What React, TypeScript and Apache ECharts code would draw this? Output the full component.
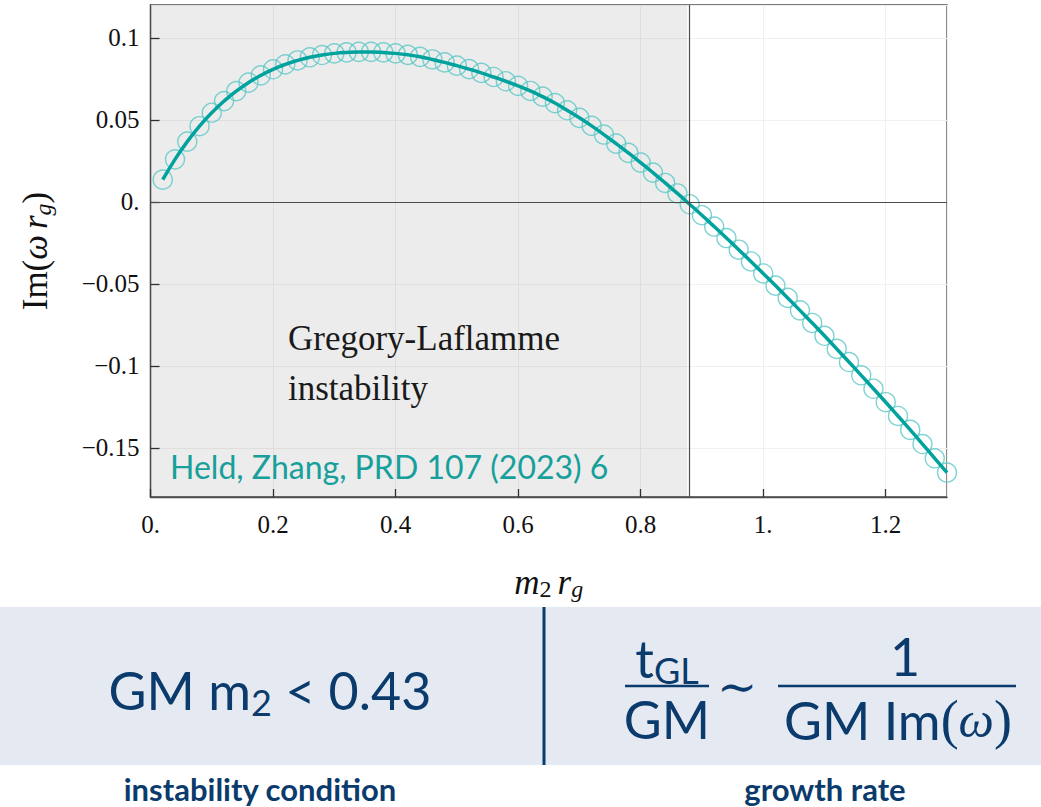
import React, { useEffect, useRef } from "react";
import * as echarts from "echarts";

// m2 * r_g sample points (x) and Im(omega r_g) values (y)
const massValues = [
  0.02, 0.04, 0.06, 0.08, 0.1, 0.12, 0.14, 0.16, 0.18, 0.2,
  0.22, 0.24, 0.26, 0.28, 0.3, 0.32, 0.34, 0.36, 0.38, 0.4,
  0.42, 0.44, 0.46, 0.48, 0.5, 0.52, 0.54, 0.56, 0.58, 0.6,
  0.62, 0.64, 0.66, 0.68, 0.7, 0.72, 0.74, 0.76, 0.78, 0.8,
  0.82, 0.84, 0.86, 0.88, 0.9, 0.92, 0.94, 0.96, 0.98, 1.0,
  1.02, 1.04, 1.06, 1.08, 1.1, 1.12, 1.14, 1.16, 1.18, 1.2,
  1.22, 1.24, 1.26, 1.28, 1.3,
];
const imValues = [
  0.0135, 0.0259, 0.0367, 0.0461, 0.0543, 0.0614, 0.0675, 0.0727, 0.0771, 0.0808,
  0.0838, 0.0862, 0.0881, 0.0895, 0.0905, 0.0911, 0.0914, 0.0914, 0.0911, 0.0905,
  0.0896, 0.0884, 0.0868, 0.085, 0.083, 0.0809, 0.0786, 0.0761, 0.0735, 0.0707,
  0.0676, 0.0641, 0.0602, 0.0558, 0.0512, 0.0463, 0.041, 0.0355, 0.0298, 0.0239,
  0.0178, 0.0115, 0.0051, -0.0015, -0.0082, -0.0151, -0.0221, -0.0292, -0.0364, -0.0437,
  -0.0511, -0.0586, -0.0662, -0.0739, -0.0817, -0.0897, -0.0977, -0.1058, -0.114, -0.1222,
  -0.1306, -0.1391, -0.1477, -0.1564, -0.1651,
];
const instabilityThreshold = 0.876;
const xRange = [0, 1.3];
const yRange = [-0.18, 0.12];
const xTickStep = 0.2;

const annotationLines = ["Gregory-Laflamme", "instability"];
const sourceLabel = "Held, Zhang, PRD 107 (2023) 6";
const conditionCaption = "instability condition";
const rateCaption = "growth rate";

const SERIF = "'Liberation Serif', 'DejaVu Serif', serif";
const SANS = "Lato, 'Open Sans', sans-serif";
const NAVY = "#0b3b6c";
const TEAL = "#00a29e";

const fmt = (v: number) => {
  const r = +v.toFixed(2);
  if (r === 0) return "0.";
  const a = Math.abs(r);
  const s = Number.isInteger(a) ? a + "." : String(a);
  return (r < 0 ? "\u2212" : "") + s;
};

const mathRich = {
  r: { fontFamily: SERIF, fontSize: 35, color: "#111", lineHeight: 38 },
  i: { fontFamily: SERIF, fontStyle: "italic", fontSize: 35, color: "#111", lineHeight: 38 },
  s: { fontFamily: SERIF, fontStyle: "italic", fontSize: 24, color: "#111", lineHeight: 20, verticalAlign: "bottom" },
  n: { fontFamily: SERIF, fontSize: 24, color: "#111", lineHeight: 20, verticalAlign: "bottom" },
  sp: { fontFamily: SERIF, fontSize: 35, color: "#111", lineHeight: 38, width: 6 },
};

export default function App() {
  const ref = useRef<HTMLDivElement>(null);

  useEffect(() => {
    const chart = echarts.init(ref.current!, null, { renderer: "svg" });
    const data = massValues.map((x, i) => [x, imValues[i]]);

    const big = { fontFamily: SANS, fontSize: 52, fill: NAVY, color: NAVY, lineHeight: 60 };
    const bigSub = { fontFamily: SANS, fontSize: 36, fill: NAVY, color: NAVY, lineHeight: 30, verticalAlign: "bottom" };

    chart.setOption({
      animation: false,
      backgroundColor: "#ffffff",
      grid: {
        left: 150.5,
        top: 5,
        right: 94,
        bottom: 310,
        show: true,
        borderColor: "#4d4d4d",
        borderWidth: 1.3,
        backgroundColor: "transparent",
      },
      xAxis: {
        type: "value",
        min: xRange[0],
        max: xRange[1],
        interval: xTickStep,
        axisLine: { show: true, onZero: false, lineStyle: { color: "#4d4d4d", width: 1.3 } },
        axisTick: { show: true, inside: true, length: 8, lineStyle: { color: "#333", width: 1.3 } },
        axisLabel: {
          formatter: fmt,
          fontFamily: SERIF,
          fontSize: 25,
          color: "#111",
          margin: 15,
          showMaxLabel: false,
        },
        splitLine: { show: true, lineStyle: { color: "#f0f0f0", width: 1 } },
        name: "{i|m}{n|2}{sp| }{i|r}{s|g}",
        nameLocation: "middle",
        nameGap: 66,
        nameTextStyle: { rich: mathRich },
      },
      yAxis: {
        type: "value",
        min: yRange[0],
        max: yRange[1],
        splitNumber: 6,
        axisLine: { show: true, onZero: false, lineStyle: { color: "#4d4d4d", width: 1.3 } },
        axisTick: { show: true, inside: true, length: 9, lineStyle: { color: "#333", width: 1.3 } },
        axisLabel: {
          formatter: fmt,
          fontFamily: SERIF,
          fontSize: 25,
          color: "#111",
          margin: 11,
          showMinLabel: false,
          showMaxLabel: false,
        },
        splitLine: { show: true, lineStyle: { color: "#f0f0f0", width: 1 } },
        name: "{r|Im(}{i|\u03c9}{sp| }{i|r}{s|g}{r|)}",
        nameLocation: "middle",
        nameGap: 96,
        nameRotate: 90,
        nameTextStyle: { rich: mathRich },
      },
      series: [
        {
          type: "line",
          data,
          symbol: "none",
          silent: true,
          lineStyle: { opacity: 0, width: 0 },
          z: 1,
          markArea: {
            silent: true,
            itemStyle: { color: "rgba(0,0,0,0.075)", borderWidth: 0 },
            data: [[{ xAxis: xRange[0] }, { xAxis: instabilityThreshold }]],
          },
          markLine: {
            silent: true,
            symbol: ["none", "none"],
            label: { show: false },
            lineStyle: { color: "#4d4d4d", width: 1.2, type: "solid" },
            data: [{ yAxis: 0 }, { xAxis: instabilityThreshold }],
          },
        },
        {
          type: "scatter",
          data,
          symbol: "circle",
          symbolSize: 19,
          itemStyle: { color: "rgba(0,0,0,0)", borderColor: "#5cc8c5", borderWidth: 1.4 },
          z: 3,
        },
        {
          type: "line",
          data,
          smooth: true,
          symbol: "none",
          lineStyle: { color: TEAL, width: 3.5 },
          z: 4,
        },
      ],
      graphic: [
        {
          type: "text",
          z: 10,
          style: {
            x: 288,
            y: 363,
            text: annotationLines.join("\n"),
            fontFamily: SERIF,
            fontSize: 35,
            lineHeight: 50,
            fill: "#1a1a1a",
            align: "left",
            verticalAlign: "middle",
          },
        },
        {
          type: "text",
          z: 10,
          style: {
            x: 170,
            y: 466,
            text: sourceLabel,
            fontFamily: SANS,
            fontSize: 32,
            fill: "#17a09b",
            align: "left",
            verticalAlign: "middle",
          },
        },
        {
          type: "rect",
          z: 1,
          shape: { x: 0, y: 607, width: 1041, height: 158 },
          style: { fill: "#e5eaf2" },
        },
        {
          type: "line",
          z: 2,
          shape: { x1: 544, y1: 607, x2: 544, y2: 765 },
          style: { stroke: NAVY, lineWidth: 3 },
        },
        {
          type: "text",
          z: 3,
          style: {
            x: 270,
            y: 690,
            text: "{a|GM m}{b|2}{a| < 0.43}",
            rich: { a: big, b: bigSub },
            fill: NAVY,
            align: "center",
            verticalAlign: "middle",
          },
        },
        {
          type: "text",
          z: 3,
          style: {
            x: 667,
            y: 658,
            text: "{a|t}{b|GL}",
            rich: { a: big, b: bigSub },
            fill: NAVY,
            align: "center",
            verticalAlign: "middle",
          },
        },
        {
          type: "line",
          z: 3,
          shape: { x1: 625, y1: 686, x2: 709, y2: 686 },
          style: { stroke: NAVY, lineWidth: 2.5 },
        },
        {
          type: "text",
          z: 3,
          style: {
            x: 667,
            y: 719,
            text: "GM",
            fontFamily: SANS,
            fontSize: 52,
            fill: NAVY,
            align: "center",
            verticalAlign: "middle",
          },
        },
        {
          type: "text",
          z: 3,
          style: {
            x: 737,
            y: 686,
            text: "\u223c",
            fontFamily: SERIF,
            fontSize: 48,
            fill: NAVY,
            align: "center",
            verticalAlign: "middle",
          },
        },
        {
          type: "text",
          z: 3,
          style: {
            x: 905,
            y: 656,
            text: "1",
            fontFamily: SANS,
            fontSize: 52,
            fill: NAVY,
            align: "center",
            verticalAlign: "middle",
          },
        },
        {
          type: "line",
          z: 3,
          shape: { x1: 778, y1: 686, x2: 1016, y2: 686 },
          style: { stroke: NAVY, lineWidth: 2.5 },
        },
        {
          type: "text",
          z: 3,
          style: {
            x: 898,
            y: 720,
            text: "{a|GM Im}{p|(}{w|\u03c9}{p|)}",
            fill: NAVY,
            rich: {
              a: { fontFamily: SANS, fontSize: 52, fill: NAVY, color: NAVY, lineHeight: 60 },
              p: { fontFamily: SERIF, fontSize: 54, fill: NAVY, color: NAVY, lineHeight: 60 },
              w: { fontFamily: SERIF, fontStyle: "italic", fontSize: 50, fill: NAVY, color: NAVY, lineHeight: 60 },
            },
            align: "center",
            verticalAlign: "middle",
          },
        },
        {
          type: "text",
          z: 3,
          style: {
            x: 260,
            y: 789,
            text: conditionCaption,
            fontFamily: SANS,
            fontWeight: "bold",
            fontSize: 31,
            fill: NAVY,
            align: "center",
            verticalAlign: "middle",
          },
        },
        {
          type: "text",
          z: 3,
          style: {
            x: 825,
            y: 789,
            text: rateCaption,
            fontFamily: SANS,
            fontWeight: "bold",
            fontSize: 31,
            fill: NAVY,
            align: "center",
            verticalAlign: "middle",
          },
        },
      ],
    });

    return () => chart.dispose();
  }, []);

  return (
    <div
      ref={ref}
      style={{ position: "absolute", left: 0, top: 0, width: 1041, height: 807, background: "#fff" }}
    />
  );
}
